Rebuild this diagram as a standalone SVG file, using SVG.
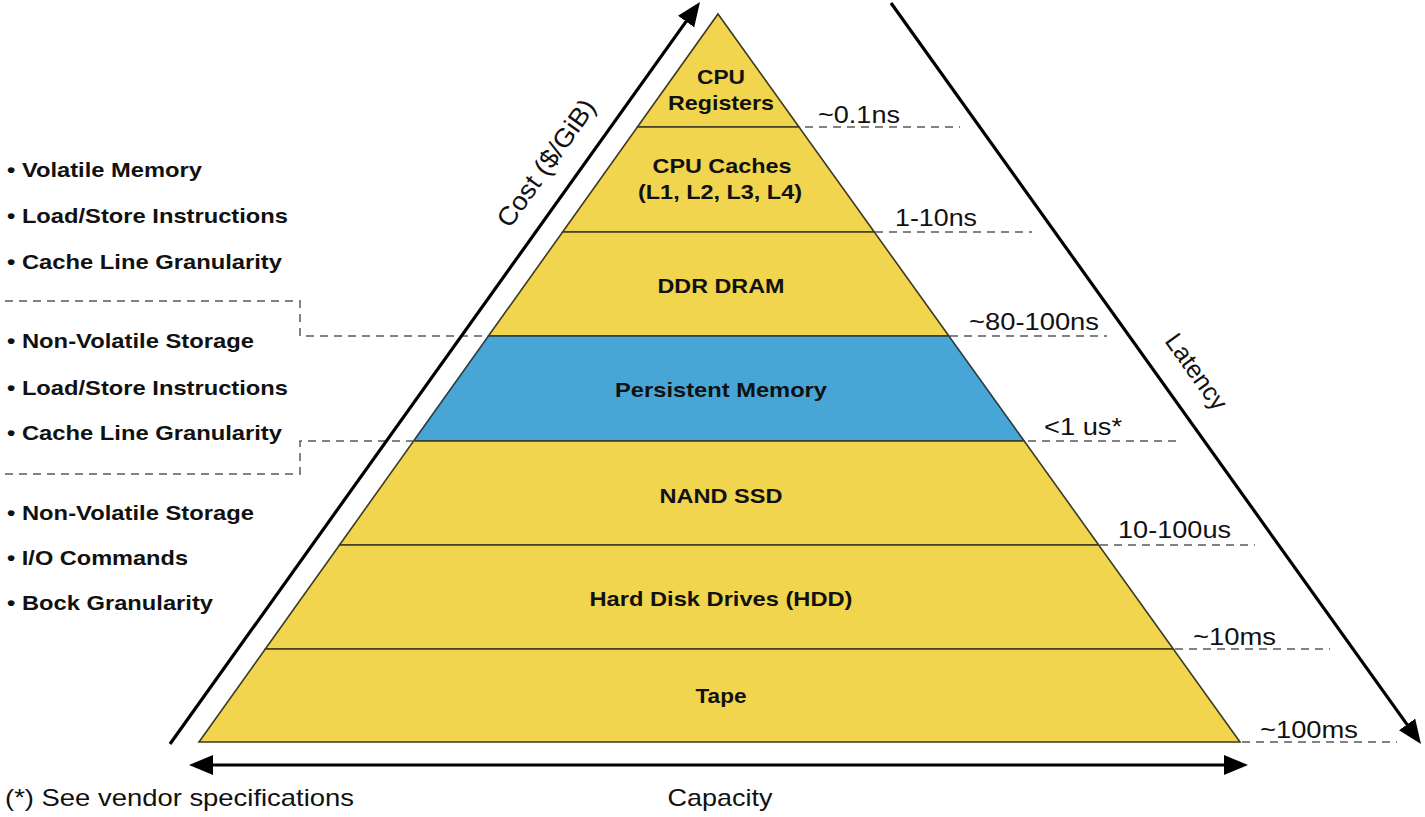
<svg xmlns="http://www.w3.org/2000/svg" width="1425" height="817" viewBox="0 0 1425 817">
<defs>
<style>
.layer{fill:#F1D54E;stroke:#3d3a22;stroke-width:1.6}
.pm{fill:#47A6D6;stroke:#2a3a40;stroke-width:1.6}
.lbl{font-family:"Liberation Sans",Arial,sans-serif;font-weight:bold;font-size:21px;fill:#111;text-anchor:middle}
.bul{font-family:"Liberation Sans",Arial,sans-serif;font-weight:bold;font-size:21px;fill:#111}
.lat{font-family:"Liberation Sans",Arial,sans-serif;font-size:24px;fill:#111}
.dash{fill:none;stroke:#5a5a5a;stroke-width:1.5;stroke-dasharray:8 6}
.arr{fill:none;stroke:#000;stroke-width:3.2}
</style>
<marker id="ah" viewBox="0 0 24 20" refX="18" refY="10" markerWidth="24" markerHeight="20" markerUnits="userSpaceOnUse" orient="auto-start-reverse">
<path d="M0,0 L24,10 L0,20 z" fill="#000"/>
</marker>
</defs>
<rect width="1425" height="817" fill="#fff"/>

<g id="layer-registers">
<polygon class="layer" points="718,14 799,127 637.4,127"/>
<text class="lbl" x="721" y="84" textLength="48" lengthAdjust="spacingAndGlyphs">CPU</text>
<text class="lbl" x="721" y="110" textLength="106" lengthAdjust="spacingAndGlyphs">Registers</text>
</g>
<g id="layer-caches">
<polygon class="layer" points="637.4,127 799,127 874.3,232 562.6,232"/>
<text class="lbl" x="722" y="173" textLength="139" lengthAdjust="spacingAndGlyphs">CPU Caches</text>
<text class="lbl" x="720" y="199" textLength="164" lengthAdjust="spacingAndGlyphs">(L1, L2, L3, L4)</text>
</g>
<g id="layer-dram">
<polygon class="layer" points="562.6,232 874.3,232 948.9,336 488.4,336"/>
<text class="lbl" x="721" y="293" textLength="127" lengthAdjust="spacingAndGlyphs">DDR DRAM</text>
</g>
<g id="layer-pm">
<polygon class="pm" points="488.4,336 948.9,336 1024.2,441 413.6,441"/>
<text class="lbl" x="721" y="397" textLength="212" lengthAdjust="spacingAndGlyphs">Persistent Memory</text>
</g>
<g id="layer-nand">
<polygon class="layer" points="413.6,441 1024.2,441 1098.7,545 339.5,545"/>
<text class="lbl" x="721" y="503" textLength="123" lengthAdjust="spacingAndGlyphs">NAND SSD</text>
</g>
<g id="layer-hdd">
<polygon class="layer" points="339.5,545 1098.7,545 1173.3,649 265.3,649"/>
<text class="lbl" x="721" y="606" textLength="263" lengthAdjust="spacingAndGlyphs">Hard Disk Drives (HDD)</text>
</g>
<g id="layer-tape">
<polygon class="layer" points="265.3,649 1173.3,649 1240,742 199,742"/>
<text class="lbl" x="721" y="703" textLength="51" lengthAdjust="spacingAndGlyphs">Tape</text>
</g>

<g id="latency-labels">
<path class="dash" d="M805,127 H960 M875,232 H1032 M950,336 H1107 M1028,441 H1182 M1100,545 H1255 M1175,649 H1330 M1242,742 H1397"/>
<text class="lat" x="818" y="123" textLength="82" lengthAdjust="spacingAndGlyphs">~0.1ns</text>
<text class="lat" x="895" y="226" textLength="82" lengthAdjust="spacingAndGlyphs">1-10ns</text>
<text class="lat" x="969" y="330" textLength="130" lengthAdjust="spacingAndGlyphs">~80-100ns</text>
<text class="lat" x="1044" y="435" textLength="78" lengthAdjust="spacingAndGlyphs">&lt;1 us*</text>
<text class="lat" x="1118" y="538" textLength="113" lengthAdjust="spacingAndGlyphs">10-100us</text>
<text class="lat" x="1193" y="645" textLength="83" lengthAdjust="spacingAndGlyphs">~10ms</text>
<text class="lat" x="1260" y="738" textLength="98" lengthAdjust="spacingAndGlyphs">~100ms</text>
</g>

<g id="properties">
<path class="dash" d="M5,301 H300 V336 H488"/>
<path class="dash" d="M414,441 H300 V474 H5"/>
<text class="bul" x="7" y="177" textLength="195" lengthAdjust="spacingAndGlyphs">• Volatile Memory</text>
<text class="bul" x="7" y="223" textLength="281" lengthAdjust="spacingAndGlyphs">• Load/Store Instructions</text>
<text class="bul" x="7" y="269" textLength="275" lengthAdjust="spacingAndGlyphs">• Cache Line Granularity</text>
<text class="bul" x="7" y="348" textLength="247" lengthAdjust="spacingAndGlyphs">• Non-Volatile Storage</text>
<text class="bul" x="7" y="395" textLength="281" lengthAdjust="spacingAndGlyphs">• Load/Store Instructions</text>
<text class="bul" x="7" y="440" textLength="275" lengthAdjust="spacingAndGlyphs">• Cache Line Granularity</text>
<text class="bul" x="7" y="520" textLength="247" lengthAdjust="spacingAndGlyphs">• Non-Volatile Storage</text>
<text class="bul" x="7" y="565" textLength="181" lengthAdjust="spacingAndGlyphs">• I/O Commands</text>
<text class="bul" x="7" y="610" textLength="206" lengthAdjust="spacingAndGlyphs">• Bock Granularity</text>
</g>

<g id="connectors">
<line class="arr" x1="170" y1="744" x2="696.5" y2="6.9" marker-end="url(#ah)"/>
<line class="arr" x1="891" y1="3" x2="1417.5" y2="739.1" marker-end="url(#ah)"/>
<line class="arr" x1="195" y1="765" x2="1242" y2="765" marker-start="url(#ah)" marker-end="url(#ah)"/>
</g>

<g id="axis-labels">
<text class="lat" transform="translate(546,163) rotate(-54.5)" x="0" y="9" text-anchor="middle" style="font-size:26px" textLength="150" lengthAdjust="spacingAndGlyphs">Cost ($/GiB)</text>
<text class="lat" transform="translate(1196,372) rotate(54.5)" x="0" y="8" text-anchor="middle" style="font-size:25px">Latency</text>
<text class="lat" x="720" y="806" text-anchor="middle" textLength="105" lengthAdjust="spacingAndGlyphs">Capacity</text>
<text class="lat" x="5" y="806" textLength="349" lengthAdjust="spacingAndGlyphs">(*) See vendor specifications</text>
</g>
</svg>
